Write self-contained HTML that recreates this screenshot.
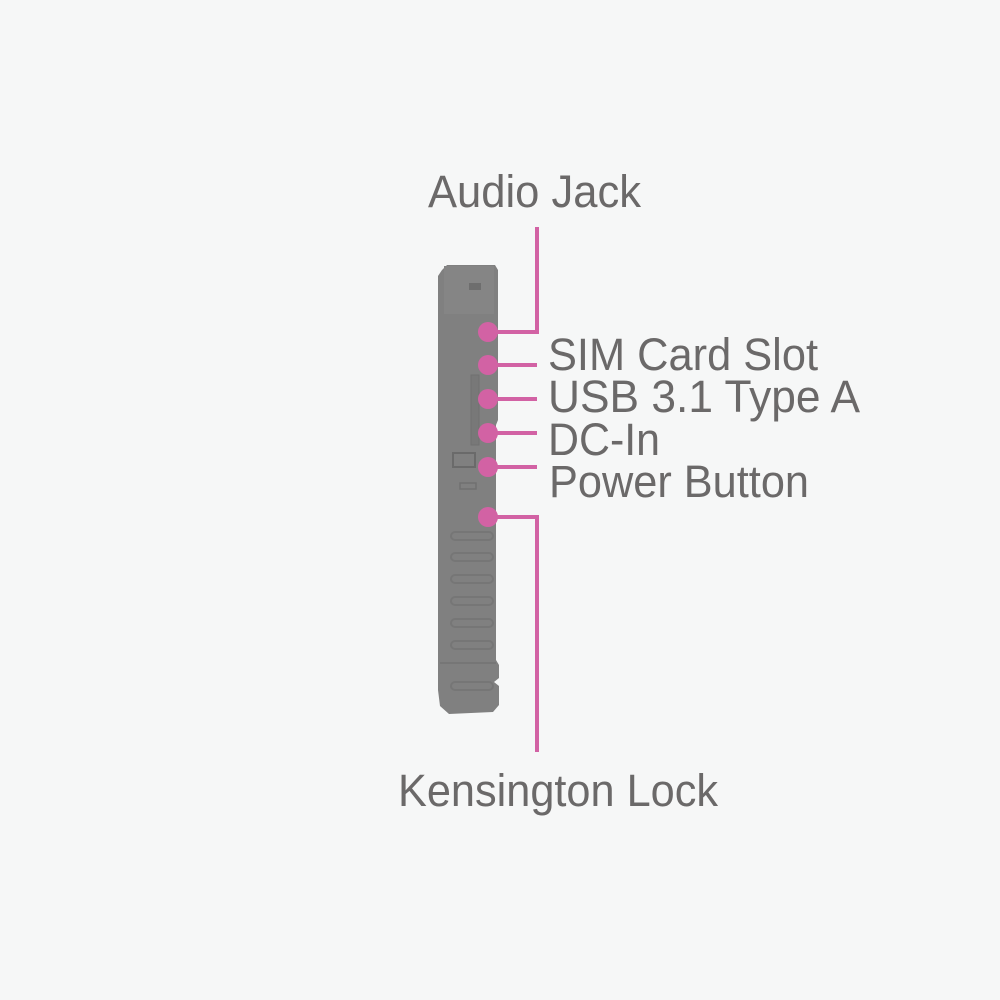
<!DOCTYPE html>
<html><head><style>
html,body{margin:0;padding:0;background:#f6f7f7;}
svg{display:block}
text{font-family:"Liberation Sans",sans-serif;fill:#6b6969;font-size:45px}
</style></head><body>
<svg width="1000" height="1000" viewBox="0 0 1000 1000">
<rect width="1000" height="1000" fill="#f6f7f7"/>
<path d="M442 270 L447 265 L495 265 L498 270 L498 420 L496 425 L496 660 L499 665 L499 678 L494 682 L499 686 L499 705 L493 712 L449 714 L440 706 L438 690 L438 276 Z" fill="#808080"/>
<rect x="444" y="266" width="50" height="48" fill="#858585"/>
<rect x="469" y="283" width="12" height="7" fill="#6e6e6e"/>
<rect x="471" y="375" width="8" height="70" fill="#787878" stroke="#707070"/>
<rect x="453" y="453" width="22" height="14" fill="none" stroke="#6a6a6a" stroke-width="2"/>
<rect x="460" y="483" width="16" height="6" fill="none" stroke="#707070" stroke-width="1.5"/>
<g stroke="#767676" stroke-width="2" fill="none">
<rect x="451" y="532" width="42" height="8" rx="4"/>
<rect x="451" y="553" width="42" height="8" rx="4"/>
<rect x="451" y="575" width="42" height="8" rx="4"/>
<rect x="451" y="597" width="42" height="8" rx="4"/>
<rect x="451" y="619" width="42" height="8" rx="4"/>
<rect x="451" y="641" width="42" height="8" rx="4"/>
<rect x="451" y="682" width="42" height="8" rx="4"/>
<line x1="440" y1="663" x2="496" y2="663"/>
</g>
<g stroke="#d262a4" stroke-width="4" fill="none">
<polyline points="488,332 537,332 537,227"/>
<line x1="488" y1="365" x2="537" y2="365"/>
<line x1="488" y1="399" x2="537" y2="399"/>
<line x1="488" y1="433" x2="537" y2="433"/>
<line x1="488" y1="467" x2="537" y2="467"/>
<polyline points="488,517 537,517 537,752"/>
</g>
<g fill="#d262a4">
<circle cx="488" cy="332" r="10"/>
<circle cx="488" cy="365" r="10"/>
<circle cx="488" cy="399" r="10"/>
<circle cx="488" cy="433" r="10"/>
<circle cx="488" cy="467" r="10"/>
<circle cx="488" cy="517" r="10"/>
</g>
<text x="428" y="207" textLength="213" lengthAdjust="spacingAndGlyphs">Audio Jack</text>
<text x="548" y="370" textLength="270" lengthAdjust="spacingAndGlyphs">SIM Card Slot</text>
<text x="548" y="412" textLength="312" lengthAdjust="spacingAndGlyphs">USB 3.1 Type A</text>
<text x="548" y="455" textLength="112" lengthAdjust="spacingAndGlyphs">DC-In</text>
<text x="549" y="497" textLength="260" lengthAdjust="spacingAndGlyphs">Power Button</text>
<text x="398" y="806" textLength="320" lengthAdjust="spacingAndGlyphs">Kensington Lock</text>
</svg>
</body></html>
